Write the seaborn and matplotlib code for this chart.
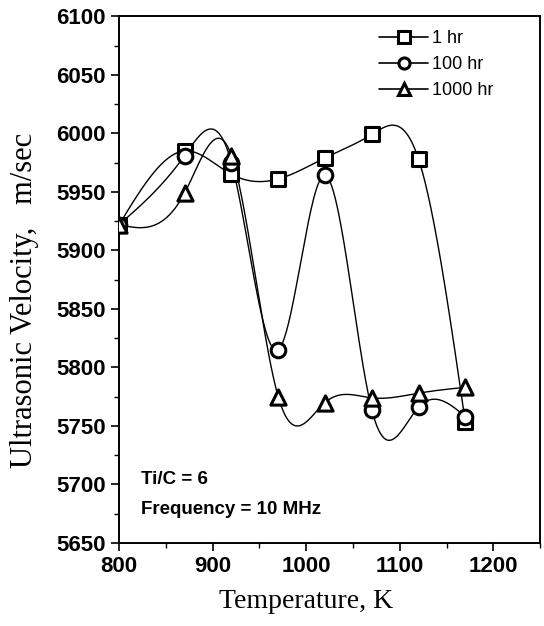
import numpy as np
import pandas as pd
import matplotlib
matplotlib.use("Agg")
import matplotlib.pyplot as plt
from matplotlib.lines import Line2D
from matplotlib.ticker import MultipleLocator
import seaborn as sns

# ---- data ----
temperature = [800, 870, 920, 970, 1020, 1070, 1120, 1170]
vel_1hr = [5922, 5985, 5965, 5961, 5979, 5999, 5978, 5753]
vel_100hr = [5922, 5981, 5975, 5815, 5964, 5764, 5766, 5758]
vel_1000hr = [5922, 5949, 5981, 5775, 5770, 5774, 5778, 5783]
series_labels = ["1 hr", "100 hr", "1000 hr"]
series_markers = ["s", "o", "^"]

x_ticks = [800, 900, 1000, 1100, 1200]
y_ticks = list(range(5650, 6101, 50))


def natural_spline(x, y, n=400):
    x = np.asarray(x, float)
    y = np.asarray(y, float)
    k = len(x)
    h = np.diff(x)
    A = np.zeros((k, k))
    b = np.zeros(k)
    A[0, 0] = A[-1, -1] = 1.0
    for i in range(1, k - 1):
        A[i, i - 1] = h[i - 1]
        A[i, i] = 2 * (h[i - 1] + h[i])
        A[i, i + 1] = h[i]
        b[i] = 3 * ((y[i + 1] - y[i]) / h[i] - (y[i] - y[i - 1]) / h[i - 1])
    c = np.linalg.solve(A, b)
    xs = np.linspace(x[0], x[-1], n)
    ys = np.empty_like(xs)
    for j, xv in enumerate(xs):
        i = min(np.searchsorted(x, xv, side="right") - 1, k - 2)
        dx = xv - x[i]
        bi = (y[i + 1] - y[i]) / h[i] - h[i] * (2 * c[i] + c[i + 1]) / 3
        di = (c[i + 1] - c[i]) / (3 * h[i])
        ys[j] = y[i] + bi * dx + c[i] * dx ** 2 + di * dx ** 3
    return xs, ys


sns.set_theme(style="ticks")
plt.rcParams["font.family"] = ["Liberation Sans", "DejaVu Sans"]
plt.rcParams["text.color"] = "black"
plt.rcParams["axes.labelcolor"] = "black"
plt.rcParams["xtick.color"] = "black"
plt.rcParams["ytick.color"] = "black"

fig = plt.figure(figsize=(5.44, 6.26), dpi=100)
ax = fig.add_axes([0.219, 0.1326, 0.774, 0.8414])

all_series = [vel_1hr, vel_100hr, vel_1000hr]
point_frames = []
curve_frames = []
for lab, vals in zip(series_labels, all_series):
    point_frames.append(pd.DataFrame({"T": temperature, "V": vals, "series": lab}))
    xs, ys = natural_spline(temperature, vals)
    curve_frames.append(pd.DataFrame({"T": xs, "V": ys, "series": lab}))
points = pd.concat(point_frames, ignore_index=True)
curves = pd.concat(curve_frames, ignore_index=True)

sns.lineplot(data=curves, x="T", y="V", units="series", estimator=None,
             color="black", linewidth=1.0, sort=False, ax=ax, legend=False)
for lab, mk in zip(series_labels, series_markers):
    sub = points[points["series"] == lab]
    sns.scatterplot(data=sub, x="T", y="V", marker=mk, s=120 if mk == "^" else 110,
                    facecolor="white", edgecolor="black", linewidth=2.2,
                    ax=ax, legend=False, zorder=3)

ax.set_xlim(800, 1250)
ax.set_ylim(5650, 6100)
ax.set_xticks(x_ticks)
ax.set_yticks(y_ticks)
ax.xaxis.set_minor_locator(MultipleLocator(50))
ax.yaxis.set_minor_locator(MultipleLocator(25))
ax.tick_params(which="major", direction="out", length=6, width=1.2,
               labelsize=16, colors="black")
ax.tick_params(which="minor", direction="out", length=3.5, width=1.0)
for t in ax.get_xticklabels() + ax.get_yticklabels():
    t.set_fontweight("bold")
for s in ax.spines.values():
    s.set_visible(True)
    s.set_linewidth(1.4)
    s.set_color("black")

ax.set_xlabel("Temperature, K", family="Liberation Serif", fontsize=20)
ax.set_ylabel("Ultrasonic Velocity,   m/sec", family="Liberation Serif", fontsize=22)
ax.xaxis.set_label_coords(0.445, -0.088)
ax.yaxis.set_label_coords(-0.19, 0.46)

ax.text(0.052, 0.121, "Ti/C = 6", transform=ax.transAxes, fontsize=13.5,
        fontweight="bold", va="center")
ax.text(0.052, 0.063, "Frequency = 10 MHz", transform=ax.transAxes, fontsize=13.5,
        fontweight="bold", va="center")

handles = [Line2D([], [], color="black", linewidth=1.2, marker=mk, markersize=8,
                  markerfacecolor="white", markeredgecolor="black", markeredgewidth=2.2)
           for mk in series_markers]
ax.legend(handles, series_labels, loc="upper right", frameon=False,
          prop={"size": 13},
          handlelength=2.7, handletextpad=0.2, labelspacing=0.5,
          borderaxespad=0.0, bbox_to_anchor=(0.905, 0.987))

fig.savefig("out.png", dpi=100)
